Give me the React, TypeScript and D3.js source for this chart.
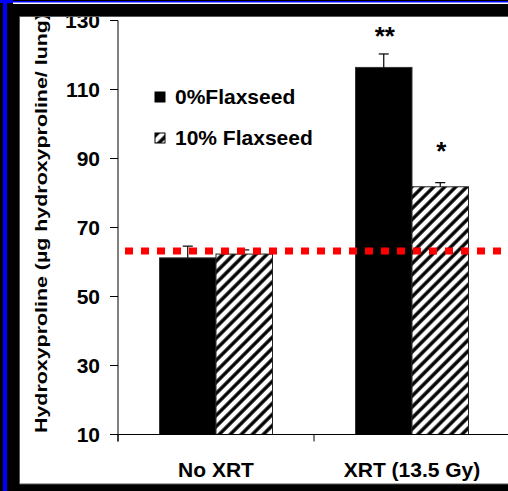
import React from "react";
import * as d3 from "d3";

// chart data
const categories = ["No XRT", "XRT (13.5 Gy)"];
const seriesNames = ["0%Flaxseed", "10% Flaxseed"];
const meanNoFlax = [61.2, 116.4];
const meanFlax = [62.3, 81.8];
const errNoFlax = [3.4, 3.9];
const errFlax = [1.2, 1.2];
const yTicks = [10, 30, 50, 70, 90, 110, 130];
const referenceLevel = 63.2;
// significance marks: [category index, series index, text, level]
const marks: [number, number, string, number][] = [
  [1, 0, "**", 122.8],
  [1, 1, "*", 89.6],
];

const W = 508;
const H = 491;
const FONT = "Arial, 'Liberation Sans', sans-serif";

const App: React.FC = () => {
  const y = d3.scaleLinear().domain([10, 130]).range([434.5, 20.5]);
  const x0 = d3.scaleBand<string>().domain(categories).range([118, 510]);
  const x1 = d3
    .scaleBand<string>()
    .domain(seriesNames)
    .range([41.5, x0.bandwidth() - 41.5]);

  const bars = categories.flatMap((c, i) => [
    { c, s: seriesNames[0], v: meanNoFlax[i], e: errNoFlax[i], hatch: false },
    { c, s: seriesNames[1], v: meanFlax[i], e: errFlax[i], hatch: true },
  ]);

  const axisX = x0.range()[0];
  const baseY = y(10);
  const bounds = [...categories.map(c => x0(c) as number), x0.range()[1]];

  return (
    <svg
      width={W}
      height={H}
      viewBox={`0 0 ${W} ${H}`}
      style={{ position: "absolute", left: 0, top: 0, background: "#fff" }}
    >
      <defs>
        <pattern
          id="hatch"
          patternUnits="userSpaceOnUse"
          width={7.8}
          height={7.8}
          patternTransform="rotate(45)"
        >
          <rect width={7.8} height={7.8} fill="#fff" />
          <line x1={2} y1={0} x2={2} y2={7.8} stroke="#000" strokeWidth={3.4} />
        </pattern>
      </defs>

      <rect x={0} y={0} width={W} height={H} fill="#fff" />

      {/* bars */}
      {bars.map((b, i) => {
        const bx = (x0(b.c) as number) + (x1(b.s) as number);
        const bw = x1.bandwidth();
        return (
          <g key={i}>
            <rect
              x={bx}
              y={y(b.v)}
              width={bw}
              height={baseY - y(b.v)}
              fill={b.hatch ? "url(#hatch)" : "#000"}
              stroke={b.hatch ? "#222" : "#333"}
              strokeWidth={1}
            />
            <line
              x1={bx + bw / 2}
              x2={bx + bw / 2}
              y1={y(b.v)}
              y2={y(b.v + b.e)}
              stroke="#000"
              strokeWidth={1.2}
            />
            <line
              x1={bx + bw / 2 - 5}
              x2={bx + bw / 2 + 5}
              y1={y(b.v + b.e)}
              y2={y(b.v + b.e)}
              stroke="#000"
              strokeWidth={1.2}
            />
          </g>
        );
      })}

      {/* significance marks */}
      {marks.map(([ci, si, t, lvl], i) => (
        <text
          key={i}
          x={(x0(categories[ci]) as number) + (x1(seriesNames[si]) as number) + x1.bandwidth() / 2 + 1}
          y={y(lvl)}
          textAnchor="middle"
          fontFamily={FONT}
          fontWeight="bold"
          fontSize={26}
        >
          {t}
        </text>
      ))}

      {/* reference line */}
      <line
        x1={125}
        x2={501}
        y1={y(referenceLevel)}
        y2={y(referenceLevel)}
        stroke="#ff0000"
        strokeWidth={7}
        strokeDasharray="8 8"
      />

      {/* y axis */}
      <line x1={axisX} x2={axisX} y1={y(130)} y2={baseY + 7} stroke="#000" strokeWidth={1} />
      {yTicks.map(t => (
        <g key={t}>
          <line x1={axisX - 8} x2={axisX} y1={y(t)} y2={y(t)} stroke="#000" strokeWidth={1} />
          <text
            x={axisX - 18}
            y={y(t)}
            dy="0.35em"
            textAnchor="end"
            fontFamily={FONT}
            fontWeight="bold"
            fontSize={21}
          >
            {t}
          </text>
        </g>
      ))}

      {/* x axis */}
      <line x1={axisX} x2={W} y1={baseY} y2={baseY} stroke="#000" strokeWidth={1} />
      {bounds.map((b, i) => (
        <line key={i} x1={b} x2={b} y1={baseY} y2={baseY + 7} stroke="#000" strokeWidth={1} />
      ))}
      {categories.map(c => (
        <text
          key={c}
          x={(x0(c) as number) + x0.bandwidth() / 2}
          y={477}
          textAnchor="middle"
          fontFamily={FONT}
          fontWeight="bold"
          fontSize={21}
        >
          {c}
        </text>
      ))}

      {/* y label */}
      <text
        transform="translate(47,433) rotate(-90)"
        fontFamily={FONT}
        fontWeight="bold"
        fontSize={17}
        textLength={420}
        lengthAdjust="spacingAndGlyphs"
      >
        Hydroxyproline (µg hydroxyproline/ lung)
      </text>

      {/* legend */}
      {seriesNames.map((s, i) => (
        <g key={s} transform={`translate(155,${92 + i * 41})`}>
          <rect
            x={0}
            y={0}
            width={10}
            height={10}
            fill={i === 0 ? "#000" : "url(#hatch)"}
            stroke="#000"
            strokeWidth={1}
          />
          <text x={20} y={12} fontFamily={FONT} fontWeight="bold" fontSize={21}>
            {s}
          </text>
        </g>
      ))}

      {/* frame */}
      <rect x={0} y={0} width={W} height={17} fill="#000" />
      <rect x={0} y={0} width={20} height={H} fill="#000" />
      <rect x={0} y={484} width={W} height={H - 484} fill="#000" />
      <line x1={19.5} x2={W} y1={16.5} y2={16.5} stroke="#555" strokeWidth={1} />
      <line x1={19.5} x2={19.5} y1={16.5} y2={484} stroke="#555" strokeWidth={1} />
      <line x1={19.5} x2={W} y1={484} y2={484} stroke="#555" strokeWidth={1} />
      <rect x={13} y={2} width={W - 13} height={2} fill="#fff" />
      <rect x={0} y={1} width={W} height={1.5} fill="#0000ff" />
      <rect x={0} y={0} width={13} height={3} fill="#0000ff" />
      <rect x={3} y={0} width={4} height={H} fill="#0000ff" />
    </svg>
  );
};

export default App;
